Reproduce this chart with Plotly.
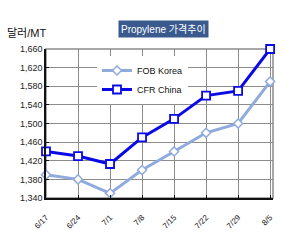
import plotly.graph_objects as go

dates = ["6/17", "6/24", "7/1", "7/8", "7/15", "7/22", "7/29", "8/5"]
fob_korea = [1390, 1380, 1350, 1400, 1440, 1480, 1500, 1590]
cfr_china = [1440, 1430, 1413, 1470, 1510, 1560, 1570, 1660]
y_ticks = [1340, 1380, 1420, 1460, 1500, 1540, 1580, 1620, 1660]

x_idx = list(range(len(dates)))

fig = go.Figure()
fig.add_trace(go.Scatter(
    x=x_idx, y=fob_korea, name="FOB Korea", mode="lines+markers",
    line=dict(color="#8FAADC", width=3), cliponaxis=False,
    marker=dict(symbol="diamond", size=7, color="white",
                line=dict(color="#8FAADC", width=1.5)),
))
fig.add_trace(go.Scatter(
    x=x_idx, y=cfr_china, name="CFR China", mode="lines+markers",
    line=dict(color="#0A0AE6", width=3), cliponaxis=False,
    marker=dict(symbol="square", size=8, color="white",
                line=dict(color="#0A0AE6", width=1.8)),
))

pw, ph = 300 - 46 - 27, 246 - 49 - 48
def px_to_paper(px, py):
    return (px - 46) / pw, (246 - 48 - py) / ph

lx, ly = px_to_paper(97, 56)

fig.update_layout(
    width=300, height=246,
    margin=dict(l=46, r=27, t=49, b=48),
    paper_bgcolor="white", plot_bgcolor="white",
    font=dict(family="Liberation Sans, Arial", size=9, color="#222"),
    showlegend=True,
    legend=dict(x=lx, y=ly, xanchor="left", yanchor="top",
                bgcolor="white", borderwidth=0,
                font=dict(size=9, color="#111"),
                tracegroupgap=0),
)

tx, ty = px_to_paper(163, 20)
ux, uy = px_to_paper(5, 25)
fig.add_annotation(text="Propylene 가격추이", x=tx, y=ty, xref="paper", yref="paper",
                   showarrow=False, bgcolor="#3A5A8E", borderpad=2,
                   font=dict(color="white", size=10, family="Liberation Sans, Noto Sans CJK KR"))
fig.add_annotation(text="달러/MT", x=ux, y=uy, xref="paper", yref="paper",
                   xanchor="left", showarrow=False,
                   font=dict(color="#111", size=11, family="Liberation Sans, Noto Sans CJK KR"))

fig.update_xaxes(
    tickmode="array", tickvals=x_idx, ticktext=dates, tickangle=-45,
    range=[0, 7.09], showgrid=True, gridcolor="#8C8C8C", gridwidth=1,
    showline=True, linecolor="#111", linewidth=1.5, mirror=False,
    ticks="inside", ticklen=3, tickcolor="#111", zeroline=False,
    tickfont=dict(size=8), ticklabelstandoff=10,
)
fig.update_yaxes(
    tickmode="array", tickvals=y_ticks, ticktext=[f"{v:,}" for v in y_ticks],
    range=[1340, 1660], showgrid=True, gridcolor="#8C8C8C", gridwidth=1,
    showline=True, linecolor="#111", linewidth=1.5,
    ticks="inside", ticklen=3, tickcolor="#111", zeroline=False,
    tickfont=dict(size=9),
)
fig.add_shape(type="rect", xref="paper", yref="paper", x0=0, y0=0, x1=1, y1=1,
              line=dict(color="#8C8C8C", width=1.5), layer="below")

fig.write_html("out.html")
